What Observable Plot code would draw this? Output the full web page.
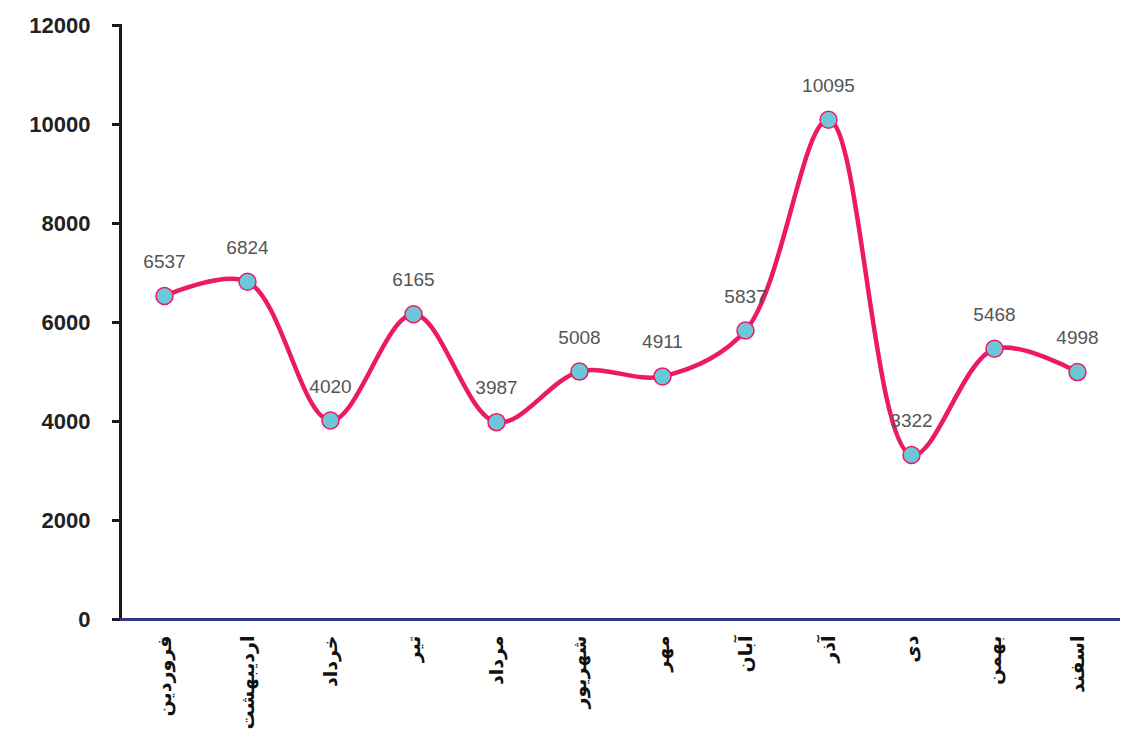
<!DOCTYPE html>
<html>
<head>
<meta charset="utf-8">
<script src="https://cdn.jsdelivr.net/npm/d3@7"></script>
<script src="https://cdn.jsdelivr.net/npm/@observablehq/plot@0.6"></script>
<style>
  html, body { margin: 0; padding: 0; background: #fff; }
</style>
</head>
<body>
<div id="chart"></div>
<script>
const months = ["فروردین", "اردیبهشت", "خرداد", "تیر", "مرداد", "شهریور", "مهر", "آبان", "آذر", "دی", "بهمن", "اسفند"];
const values = [6537, 6824, 4020, 6165, 3987, 5008, 4911, 5837, 10095, 3322, 5468, 4998];
const yTicks = [0, 2000, 4000, 6000, 8000, 10000, 12000];

const data = months.map((m, i) => ({month: m, value: values[i]}));

const chart = Plot.plot({
  width: 1126,
  height: 738,
  marginLeft: 120,
  marginRight: 6,
  marginTop: 25,
  marginBottom: 119,
  style: {fontFamily: "'Liberation Sans', 'DejaVu Sans', sans-serif", background: "#fff"},
  x: {type: "point", domain: months, padding: 0.5, label: null},
  y: {domain: [0, 12000], label: null},
  marks: [
    Plot.frame({anchor: "left", stroke: "#1a1a1a", strokeWidth: 3}),
    Plot.ruleY([0], {stroke: "#2E3680", strokeWidth: 3}),
    Plot.axisY({ticks: yTicks, tickSize: 8, tickPadding: 22, tickFormat: d => String(d), fontSize: 22, fontWeight: "bold", stroke: "#1a1a1a", strokeWidth: 3, fill: "#222", label: null}),
    Plot.axisX({tickSize: 0, tickPadding: 16, tickRotate: -90, fontSize: 19, fontWeight: "bold", fontFamily: "'DejaVu Sans', sans-serif", fill: "#111", label: null}),
    Plot.line(data, {x: "month", y: "value", stroke: "#EC1A64", strokeWidth: 4.5, curve: "catmull-rom"}),
    Plot.dot(data, {x: "month", y: "value", r: 8.5, fill: "#6CC8D8", stroke: "#EC1A64", strokeWidth: 1.5}),
    Plot.text(data, {x: "month", y: "value", text: d => String(d.value), dy: -34, fill: "#555", fontSize: 19})
  ]
});

document.getElementById("chart").appendChild(chart);
</script>
</body>
</html>
